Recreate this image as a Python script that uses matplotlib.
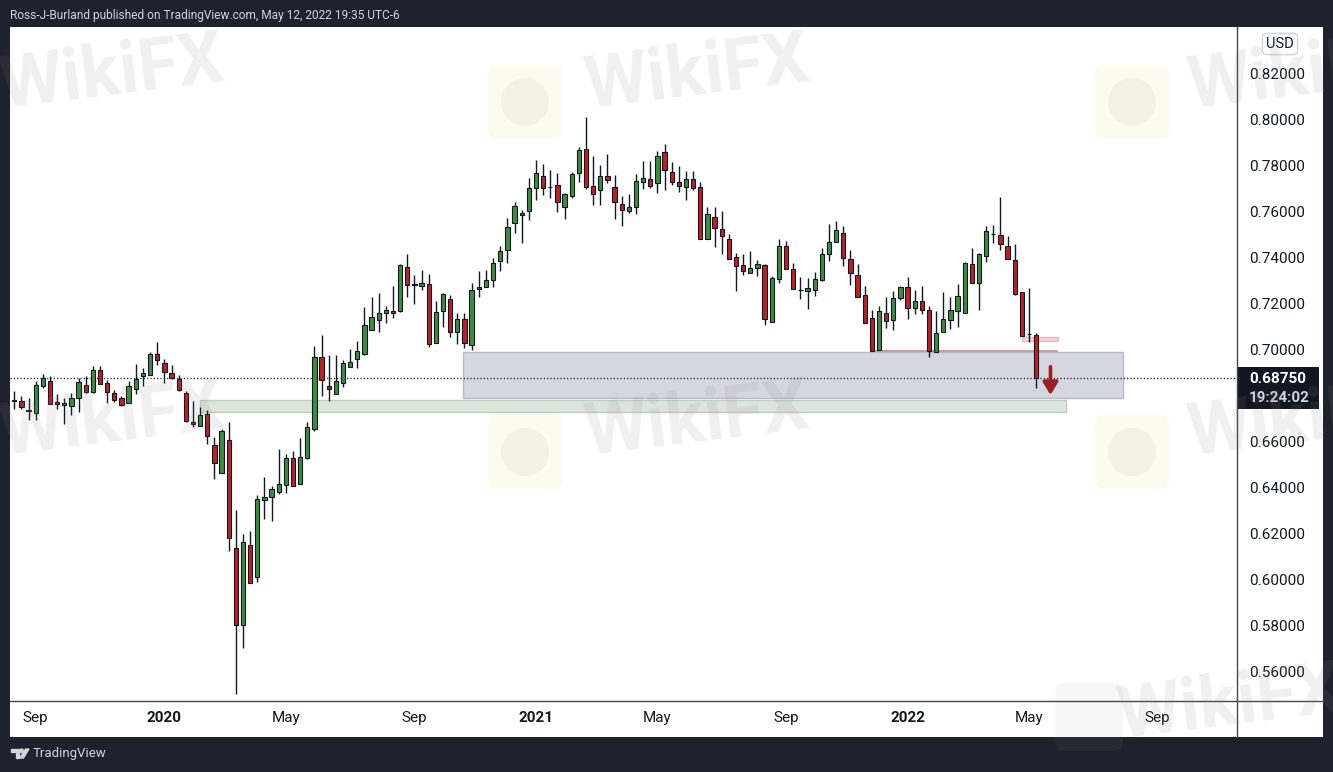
import numpy as np
import pandas as pd
import matplotlib
matplotlib.use('Agg')
import matplotlib.pyplot as plt
import matplotlib.dates as mdates
from matplotlib.patches import Rectangle, FancyBboxPatch, Circle, Polygon

plt.rcParams['font.family'] = ['Roboto', 'DejaVu Sans']

# weekly AUDUSD-style candles
first_week = '2019-08-12'

opens = [
    0.6778, 0.6774, 0.6735, 0.6720, 0.6838, 0.6861, 0.6770, 0.6757, 0.6752, 0.6787,
    0.6843, 0.6813, 0.6909, 0.6852, 0.6809, 0.6787, 0.6765, 0.6826, 0.6883, 0.6887,
    0.6978, 0.6939, 0.6896, 0.6870, 0.6809, 0.6682, 0.6665, 0.6717, 0.6581, 0.6459,
    0.6603, 0.6133, 0.5798, 0.6150, 0.6010, 0.6342, 0.6355, 0.6377, 0.6407, 0.6525,
    0.6412, 0.6527, 0.6651, 0.6964, 0.6838, 0.6803, 0.6853, 0.6923, 0.6955, 0.6980,
    0.7081, 0.7125, 0.7155, 0.7165, 0.7165, 0.7355, 0.7281, 0.7272, 0.7281, 0.7025,
    0.7165, 0.7216, 0.7073, 0.7129, 0.7016, 0.7268, 0.7268, 0.7298, 0.7381, 0.7429,
    0.7547, 0.7582, 0.7599, 0.7699, 0.7751, 0.7706, 0.7711, 0.7616, 0.7664, 0.7764,
    0.7868, 0.7707, 0.7690, 0.7751, 0.7703, 0.7629, 0.7599, 0.7616, 0.7725, 0.7738,
    0.7721, 0.7855, 0.7768, 0.7725, 0.7703, 0.7738, 0.7703, 0.7477, 0.7573, 0.7521,
    0.7477, 0.7399, 0.7364, 0.7329, 0.7351, 0.7364, 0.7116, 0.7303, 0.7447, 0.7347,
    0.7257, 0.7251, 0.7255, 0.7299, 0.7412, 0.7464, 0.7503, 0.7390, 0.7321, 0.7234,
    0.7134, 0.6994, 0.7155, 0.7125, 0.7220, 0.7268, 0.7177, 0.7207, 0.7168, 0.6986,
    0.7073, 0.7125, 0.7164, 0.7155, 0.7368, 0.7286, 0.7403, 0.7499, 0.7495, 0.7447,
    0.7386, 0.7247, 0.7065, 0.7060]

highs = [
    0.6817, 0.6796, 0.6787, 0.6861, 0.6891, 0.6883, 0.6804, 0.6787, 0.6809, 0.6874,
    0.6883, 0.6926, 0.6926, 0.6865, 0.6822, 0.6796, 0.6861, 0.6935, 0.6917, 0.6987,
    0.7030, 0.6957, 0.6930, 0.6887, 0.6817, 0.6774, 0.6748, 0.6735, 0.6619, 0.6653,
    0.6681, 0.6298, 0.6195, 0.6209, 0.6365, 0.6443, 0.6405, 0.6564, 0.6542, 0.6555,
    0.6614, 0.6681, 0.7013, 0.7061, 0.6974, 0.6974, 0.6952, 0.7000, 0.7035, 0.7183,
    0.7226, 0.7243, 0.7188, 0.7274, 0.7370, 0.7413, 0.7323, 0.7344, 0.7325, 0.7209,
    0.7243, 0.7235, 0.7157, 0.7157, 0.7286, 0.7338, 0.7342, 0.7395, 0.7447, 0.7570,
    0.7638, 0.7603, 0.7743, 0.7822, 0.7804, 0.7780, 0.7764, 0.7677, 0.7768, 0.7880,
    0.8009, 0.7838, 0.7799, 0.7848, 0.7755, 0.7664, 0.7673, 0.7760, 0.7816, 0.7816,
    0.7860, 0.7890, 0.7812, 0.7795, 0.7773, 0.7773, 0.7725, 0.7616, 0.7617, 0.7599,
    0.7499, 0.7416, 0.7412, 0.7425, 0.7386, 0.7368, 0.7316, 0.7477, 0.7469, 0.7373,
    0.7312, 0.7308, 0.7334, 0.7438, 0.7542, 0.7555, 0.7534, 0.7429, 0.7368, 0.7273,
    0.7168, 0.7186, 0.7225, 0.7251, 0.7273, 0.7312, 0.7255, 0.7273, 0.7186, 0.7164,
    0.7247, 0.7225, 0.7281, 0.7377, 0.7438, 0.7416, 0.7534, 0.7541, 0.7661, 0.7490,
    0.7455, 0.7250, 0.7264, 0.7068]

lows = [
    0.6739, 0.6738, 0.6691, 0.6691, 0.6830, 0.6761, 0.6739, 0.6674, 0.6713, 0.6726,
    0.6809, 0.6809, 0.6848, 0.6765, 0.6770, 0.6752, 0.6765, 0.6804, 0.6839, 0.6887,
    0.6930, 0.6852, 0.6870, 0.6817, 0.6682, 0.6661, 0.6665, 0.6587, 0.6433, 0.6459,
    0.6123, 0.5502, 0.5698, 0.5981, 0.5988, 0.6262, 0.6253, 0.6371, 0.6372, 0.6403,
    0.6412, 0.6520, 0.6645, 0.6797, 0.6775, 0.6803, 0.6833, 0.6923, 0.6919, 0.6973,
    0.7081, 0.7075, 0.7112, 0.7136, 0.7160, 0.7225, 0.7194, 0.7255, 0.7007, 0.7025,
    0.7097, 0.7054, 0.7020, 0.7003, 0.6994, 0.7225, 0.7268, 0.7268, 0.7337, 0.7373,
    0.7506, 0.7462, 0.7560, 0.7647, 0.7668, 0.7656, 0.7594, 0.7564, 0.7655, 0.7725,
    0.7694, 0.7625, 0.7625, 0.7721, 0.7564, 0.7534, 0.7590, 0.7586, 0.7694, 0.7699,
    0.7677, 0.7690, 0.7712, 0.7681, 0.7647, 0.7690, 0.7477, 0.7477, 0.7442, 0.7411,
    0.7390, 0.7253, 0.7320, 0.7329, 0.7316, 0.7106, 0.7116, 0.7286, 0.7347, 0.7260,
    0.7219, 0.7173, 0.7229, 0.7294, 0.7381, 0.7464, 0.7360, 0.7277, 0.7225, 0.7112,
    0.6990, 0.6994, 0.7090, 0.7081, 0.7212, 0.7129, 0.7151, 0.7151, 0.6967, 0.6986,
    0.7073, 0.7086, 0.7094, 0.7155, 0.7286, 0.7168, 0.7377, 0.7460, 0.7429, 0.7390,
    0.7234, 0.7055, 0.7029, 0.6829]

closes = [
    0.6773, 0.6747, 0.6729, 0.6843, 0.6875, 0.6761, 0.6761, 0.6764, 0.6787, 0.6857,
    0.6813, 0.6909, 0.6848, 0.6813, 0.6778, 0.6757, 0.6839, 0.6870, 0.6896, 0.6978,
    0.6952, 0.6900, 0.6874, 0.6822, 0.6687, 0.6674, 0.6713, 0.6622, 0.6503, 0.6642,
    0.6177, 0.5802, 0.6159, 0.5983, 0.6346, 0.6355, 0.6390, 0.6412, 0.6525, 0.6403,
    0.6529, 0.6659, 0.6964, 0.6864, 0.6827, 0.6859, 0.6938, 0.6942, 0.6990, 0.7103,
    0.7138, 0.7157, 0.7170, 0.7155, 0.7364, 0.7277, 0.7280, 0.7285, 0.7020, 0.7161,
    0.7239, 0.7073, 0.7129, 0.7025, 0.7255, 0.7259, 0.7299, 0.7373, 0.7425, 0.7529,
    0.7621, 0.7590, 0.7699, 0.7764, 0.7699, 0.7705, 0.7637, 0.7673, 0.7760, 0.7864,
    0.7703, 0.7673, 0.7751, 0.7734, 0.7637, 0.7603, 0.7616, 0.7729, 0.7742, 0.7707,
    0.7838, 0.7777, 0.7725, 0.7707, 0.7738, 0.7699, 0.7477, 0.7586, 0.7525, 0.7490,
    0.7390, 0.7360, 0.7338, 0.7351, 0.7368, 0.7132, 0.7308, 0.7447, 0.7347, 0.7260,
    0.7256, 0.7264, 0.7303, 0.7412, 0.7464, 0.7516, 0.7395, 0.7329, 0.7225, 0.7112,
    0.6990, 0.7164, 0.7120, 0.7220, 0.7268, 0.7177, 0.7207, 0.7168, 0.6990, 0.7068,
    0.7129, 0.7168, 0.7229, 0.7373, 0.7286, 0.7412, 0.7512, 0.7498, 0.7455, 0.7390,
    0.7238, 0.7055, 0.7064, 0.6875]

tick_dates = ['2019-09-02', '2020-01-06', '2020-05-04', '2020-09-07', '2021-01-04',
              '2021-05-03', '2021-09-06', '2022-01-03', '2022-05-02', '2022-09-05']
tick_labels = ['Sep', '2020', 'May', 'Sep', '2021', 'May', 'Sep', '2022', 'May', 'Sep']
# 0.68 sits behind the live price label, so it is not shown
price_ticks = [0.56, 0.58, 0.60, 0.62, 0.64, 0.66, 0.70, 0.72, 0.74, 0.76, 0.78, 0.80, 0.82]

last_price = 0.6875
countdown = '19:24:02'

# drawn zones (user drawings on the chart)
grey_zone = ('2020-10-25', '2022-08-02', 0.6786, 0.6986)
green_zone = ('2020-02-10', '2022-06-07', 0.6727, 0.6778)
pink_zone = ('2022-04-25', '2022-05-30', 0.7036, 0.7052)
red_line = ('2021-11-27', '2022-05-30', 0.6990)
arrow_at = ('2022-05-23', 0.6923, 0.6800)

# figure / layout in pixels
W, H = 1333, 772
bg_col = '#1e222d'
txt_col = '#131722'
up_col = '#3f8c40'
dn_col = '#b22429'


def fx(px):
    return px / W


def fy(py):
    return 1 - py / H


fig = plt.figure(figsize=(W / 100, H / 100), dpi=100, facecolor=bg_col)

# white chart panel
back = fig.add_axes([0, 0, 1, 1], zorder=0)
back.set_xlim(0, W)
back.set_ylim(H, 0)
back.axis('off')
back.add_patch(Rectangle((10, 27), 1313, 710, facecolor='white', edgecolor='none'))

ax = fig.add_axes([fx(10), fy(701), fx(1237) - fx(10), fy(27) - fy(701)], zorder=1)
ax.set_facecolor('none')

dates = pd.date_range(first_week, periods=len(opens), freq='7D')
x = mdates.date2num(dates)
o = np.array(opens)
h = np.array(highs)
l = np.array(lows)
c = np.array(closes)
up = c >= o
cols = np.where(up, up_col, dn_col)
body_lo = np.minimum(o, c)
body_h = np.maximum(np.abs(c - o), 0.00008)


def dnum(s):
    return mdates.date2num(pd.Timestamp(s))


# zones
g0, g1 = dnum(grey_zone[0]), dnum(grey_zone[1])
ax.add_patch(Rectangle((g0, grey_zone[2]), g1 - g0, grey_zone[3] - grey_zone[2],
                       facecolor='#d4d7e0', edgecolor='#b9bcc7', lw=1, zorder=1))
g0, g1 = dnum(green_zone[0]), dnum(green_zone[1])
ax.add_patch(Rectangle((g0, green_zone[2]), g1 - g0, green_zone[3] - green_zone[2],
                       facecolor='#dbe7da', edgecolor='#bfcfbf', lw=1, zorder=1))
g0, g1 = dnum(pink_zone[0]), dnum(pink_zone[1])
ax.add_patch(Rectangle((g0, pink_zone[2]), g1 - g0, pink_zone[3] - pink_zone[2],
                       facecolor='#f2d6da', edgecolor='#e4b9c0', lw=1, zorder=1))
ax.hlines(red_line[2], dnum(red_line[0]), dnum(red_line[1]), color='#c48a92', lw=1.2, zorder=1.5)

# current price dotted line
ax.axhline(last_price, color=txt_col, lw=1, ls=(0, (0.8, 1.6)), zorder=1.5)

# candles
ax.vlines(x, l, h, color=txt_col, lw=1, zorder=2)
ax.bar(x, body_h, bottom=body_lo, width=4.2, color=cols, edgecolor=txt_col,
       linewidth=0.8, zorder=3)

# down arrow
ax.annotate('', xy=(dnum(arrow_at[0]), arrow_at[2]), xytext=(dnum(arrow_at[0]), arrow_at[1]),
            arrowprops=dict(arrowstyle='-|>,head_width=0.45,head_length=0.75',
                            color='#9e1d24', lw=2.6, shrinkA=0, shrinkB=0), zorder=4)

ax.set_xlim(x[0] - 4.2, x[0] + 171.1 * 7)
ax.set_ylim(0.54696, 0.84)

ax.set_xticks(mdates.date2num(pd.to_datetime(tick_dates)))
ax.set_xticklabels(tick_labels)
for t in ax.get_xticklabels():
    if t.get_text().isdigit():
        t.set_fontweight('bold')
ax.tick_params(axis='x', length=0, pad=7, labelsize=11, labelcolor=txt_col)

ax.yaxis.tick_right()
ax.set_yticks(price_ticks)
ax.set_yticklabels(['%.5f' % v for v in price_ticks])
ax.tick_params(axis='y', length=0, pad=8.6, labelsize=11, labelcolor=txt_col)
for s in ax.spines.values():
    s.set_visible(False)

# foreground: separators, labels, watermark
fg = fig.add_axes([0, 0, 1, 1], zorder=3)
fg.set_xlim(0, W)
fg.set_ylim(H, 0)
fg.axis('off')
fg.plot([1237, 1237], [27, 737], color='#434651', lw=1)
fg.plot([10, 1323], [701, 701], color='#434651', lw=1)

fg.add_patch(Rectangle((1237, 367), 82, 42, facecolor='#131722', edgecolor='none'))
fg.text(1249, 379, '%.5f' % last_price, color='white', fontsize=11, fontweight='bold',
        ha='left', va='center')
fg.text(1249, 398, countdown, color='#d1d4dc', fontsize=11, fontweight='bold',
        ha='left', va='center')

fg.text(1280, 44, 'USD', color=txt_col, fontsize=10.5, ha='center', va='center',
        bbox=dict(boxstyle='round,pad=0.25,rounding_size=0.3', fc='white', ec='#d1d4dc', lw=1))

fg.text(10, 15, 'Ross-J-Burland published on TradingView.com, May 12, 2022 19:35 UTC-6',
        color='#d1d4dc', fontsize=8.6, ha='left', va='center')

# TradingView footer logo
fg.add_patch(Polygon([[11, 749], [19, 749], [19, 758], [15.5, 758], [15.5, 752], [11, 752]],
                     closed=True, color='#d1d4dc'))
fg.add_patch(Circle((21.5, 750.8), 1.8, color='#d1d4dc'))
fg.add_patch(Polygon([[20, 758], [23.5, 758], [29, 749], [25.5, 749]], closed=True, color='#d1d4dc'))
fg.text(33, 754, 'TradingView', color='#d1d4dc', fontsize=9.5, ha='left', va='center')

# WikiFX watermark (faint)
for cx, cy in [(525, 102), (1132, 102), (525, 452), (1132, 452)]:
    fg.add_patch(FancyBboxPatch((cx - 37, cy - 37), 74, 74,
                                boxstyle='round,pad=0,rounding_size=10',
                                facecolor='#f6dc8a', edgecolor='none', alpha=0.14))
    fg.add_patch(Circle((cx, cy), 24, facecolor='#8a8490', edgecolor='none', alpha=0.07))
fg.add_patch(FancyBboxPatch((1055, 683), 68, 68, boxstyle='round,pad=0,rounding_size=10',
                            facecolor='#9a9aa0', edgecolor='none', alpha=0.07))
for cx, cy in [(112, 75), (697, 75), (1300, 75), (112, 422), (697, 422), (1300, 422), (1230, 705)]:
    fg.text(cx, cy, 'WikiFX', color='#8c8080', alpha=0.12, fontsize=52, fontweight='bold',
            ha='center', va='center', rotation=7)

fig.savefig('out.png', dpi=100, facecolor=bg_col)
